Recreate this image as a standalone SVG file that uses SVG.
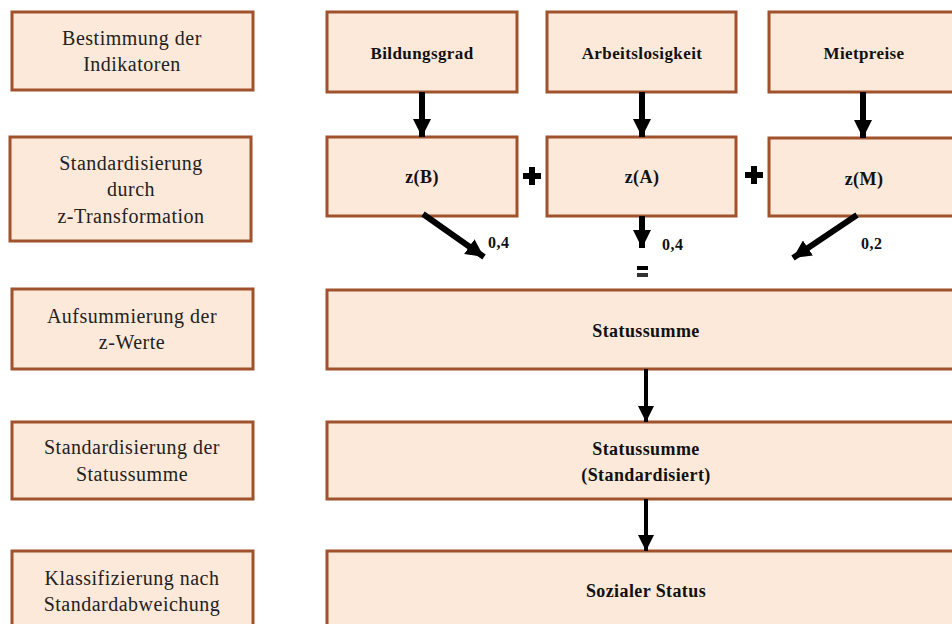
<svg xmlns="http://www.w3.org/2000/svg" width="952" height="624" viewBox="0 0 952 624">
<defs>
<style>
.box{fill:#fde9d9;stroke:#a0522d;stroke-width:3}
.lt{font-size:20px;letter-spacing:0.5px;fill:#222;text-anchor:middle}
.rt{font-size:18px;letter-spacing:0.4px;font-weight:bold;fill:#111;text-anchor:middle}
.st{font-size:17px}
.wt{font-size:16px;letter-spacing:0.5px;font-weight:bold;fill:#111}
.ar{stroke:#000;stroke-width:6;fill:none}
.ar2{stroke:#000;stroke-width:4;fill:none}
</style>
<marker id="ah" viewBox="0 0 10 10" refX="10" refY="5" markerWidth="3" markerHeight="3" markerUnits="strokeWidth" orient="auto">
<path d="M0,0 L10,5 L0,10 Z" fill="#000"/>
</marker>
<marker id="ah2" viewBox="0 0 10 10" refX="10" refY="5" markerWidth="4" markerHeight="4" markerUnits="strokeWidth" orient="auto">
<path d="M0,0 L10,5 L0,10 Z" fill="#000"/>
</marker>
</defs>
<rect width="952" height="624" fill="#fff"/>
<g font-family="Liberation Serif, Times New Roman, serif">
<g id="l1"><rect class="box" x="12" y="12" width="241" height="78"/><text class="lt" x="132" y="45">Bestimmung der</text><text class="lt" x="132" y="71">Indikatoren</text></g>
<g id="l2"><rect class="box" x="10" y="137" width="241" height="104"/><text class="lt" x="131" y="170">Standardisierung</text><text class="lt" x="131" y="196">durch</text><text class="lt" x="131" y="223">z-Transformation</text></g>
<g id="l3"><rect class="box" x="12" y="289" width="241" height="80"/><text class="lt" x="132" y="323">Aufsummierung der</text><text class="lt" x="132" y="349">z-Werte</text></g>
<g id="l4"><rect class="box" x="12" y="422" width="241" height="77"/><text class="lt" x="132" y="454">Standardisierung der</text><text class="lt" x="132" y="481">Statussumme</text></g>
<g id="l5"><rect class="box" x="12" y="551" width="241" height="80"/><text class="lt" x="132" y="585">Klassifizierung nach</text><text class="lt" x="132" y="611">Standardabweichung</text></g>

<g id="bildung"><rect class="box" x="327" y="12" width="190" height="80"/><text class="rt st" x="422" y="59">Bildungsgrad</text></g>
<g id="arbeit"><rect class="box" x="547" y="12" width="189" height="80"/><text class="rt st" x="642" y="59">Arbeitslosigkeit</text></g>
<g id="miete"><rect class="box" x="769" y="12" width="190" height="80"/><text class="rt st" x="864" y="59">Mietpreise</text></g>

<g id="zb"><rect class="box" x="327" y="137" width="190" height="79"/><text class="rt" x="422" y="183">z(B)</text></g>
<g id="za"><rect class="box" x="547" y="137" width="189" height="79"/><text class="rt" x="642" y="183">z(A)</text></g>
<g id="zm"><rect class="box" x="769" y="138" width="190" height="78"/><text class="rt" x="864" y="185">z(M)</text></g>

<g id="summe"><rect class="box" x="327" y="290" width="630" height="79"/><text class="rt" x="646" y="337">Statussumme</text></g>
<g id="std"><rect class="box" x="327" y="422" width="630" height="77"/><text class="rt" x="646" y="455">Statussumme</text><text class="rt" x="646" y="481">(Standardisiert)</text></g>
<g id="sozial"><rect class="box" x="327" y="551" width="630" height="80"/><text class="rt" x="646" y="597">Sozialer Status</text></g>

<g id="connectors">
<line class="ar" x1="422" y1="92" x2="422" y2="137" marker-end="url(#ah)"/>
<line class="ar" x1="642" y1="92" x2="642" y2="137" marker-end="url(#ah)"/>
<line class="ar" x1="863" y1="92" x2="863" y2="138" marker-end="url(#ah)"/>
<line class="ar" x1="423" y1="214" x2="484" y2="257" marker-end="url(#ah)"/>
<line class="ar" x1="642" y1="216" x2="642" y2="248" marker-end="url(#ah)"/>
<line class="ar" x1="857" y1="215" x2="793" y2="258" marker-end="url(#ah)"/>
<line class="ar2" x1="646" y1="369" x2="646" y2="422" marker-end="url(#ah2)"/>
<line class="ar2" x1="646" y1="499" x2="646" y2="551" marker-end="url(#ah2)"/>
</g>

<g id="ops">
<path d="M529,167 h6 v6 h6 v6 h-6 v6 h-6 v-6 h-6 v-6 h6 Z" fill="#000"/>
<path d="M751,166 h6 v6 h6 v6 h-6 v6 h-6 v-6 h-6 v-6 h6 Z" fill="#000"/>
<rect x="637" y="266" width="11" height="4" fill="#000"/>
<rect x="637" y="273" width="11" height="4" fill="#333"/>
<text class="wt" x="488" y="248">0,4</text>
<text class="wt" x="662" y="250">0,4</text>
<text class="wt" x="861" y="249">0,2</text>
</g>
</g>
</svg>
